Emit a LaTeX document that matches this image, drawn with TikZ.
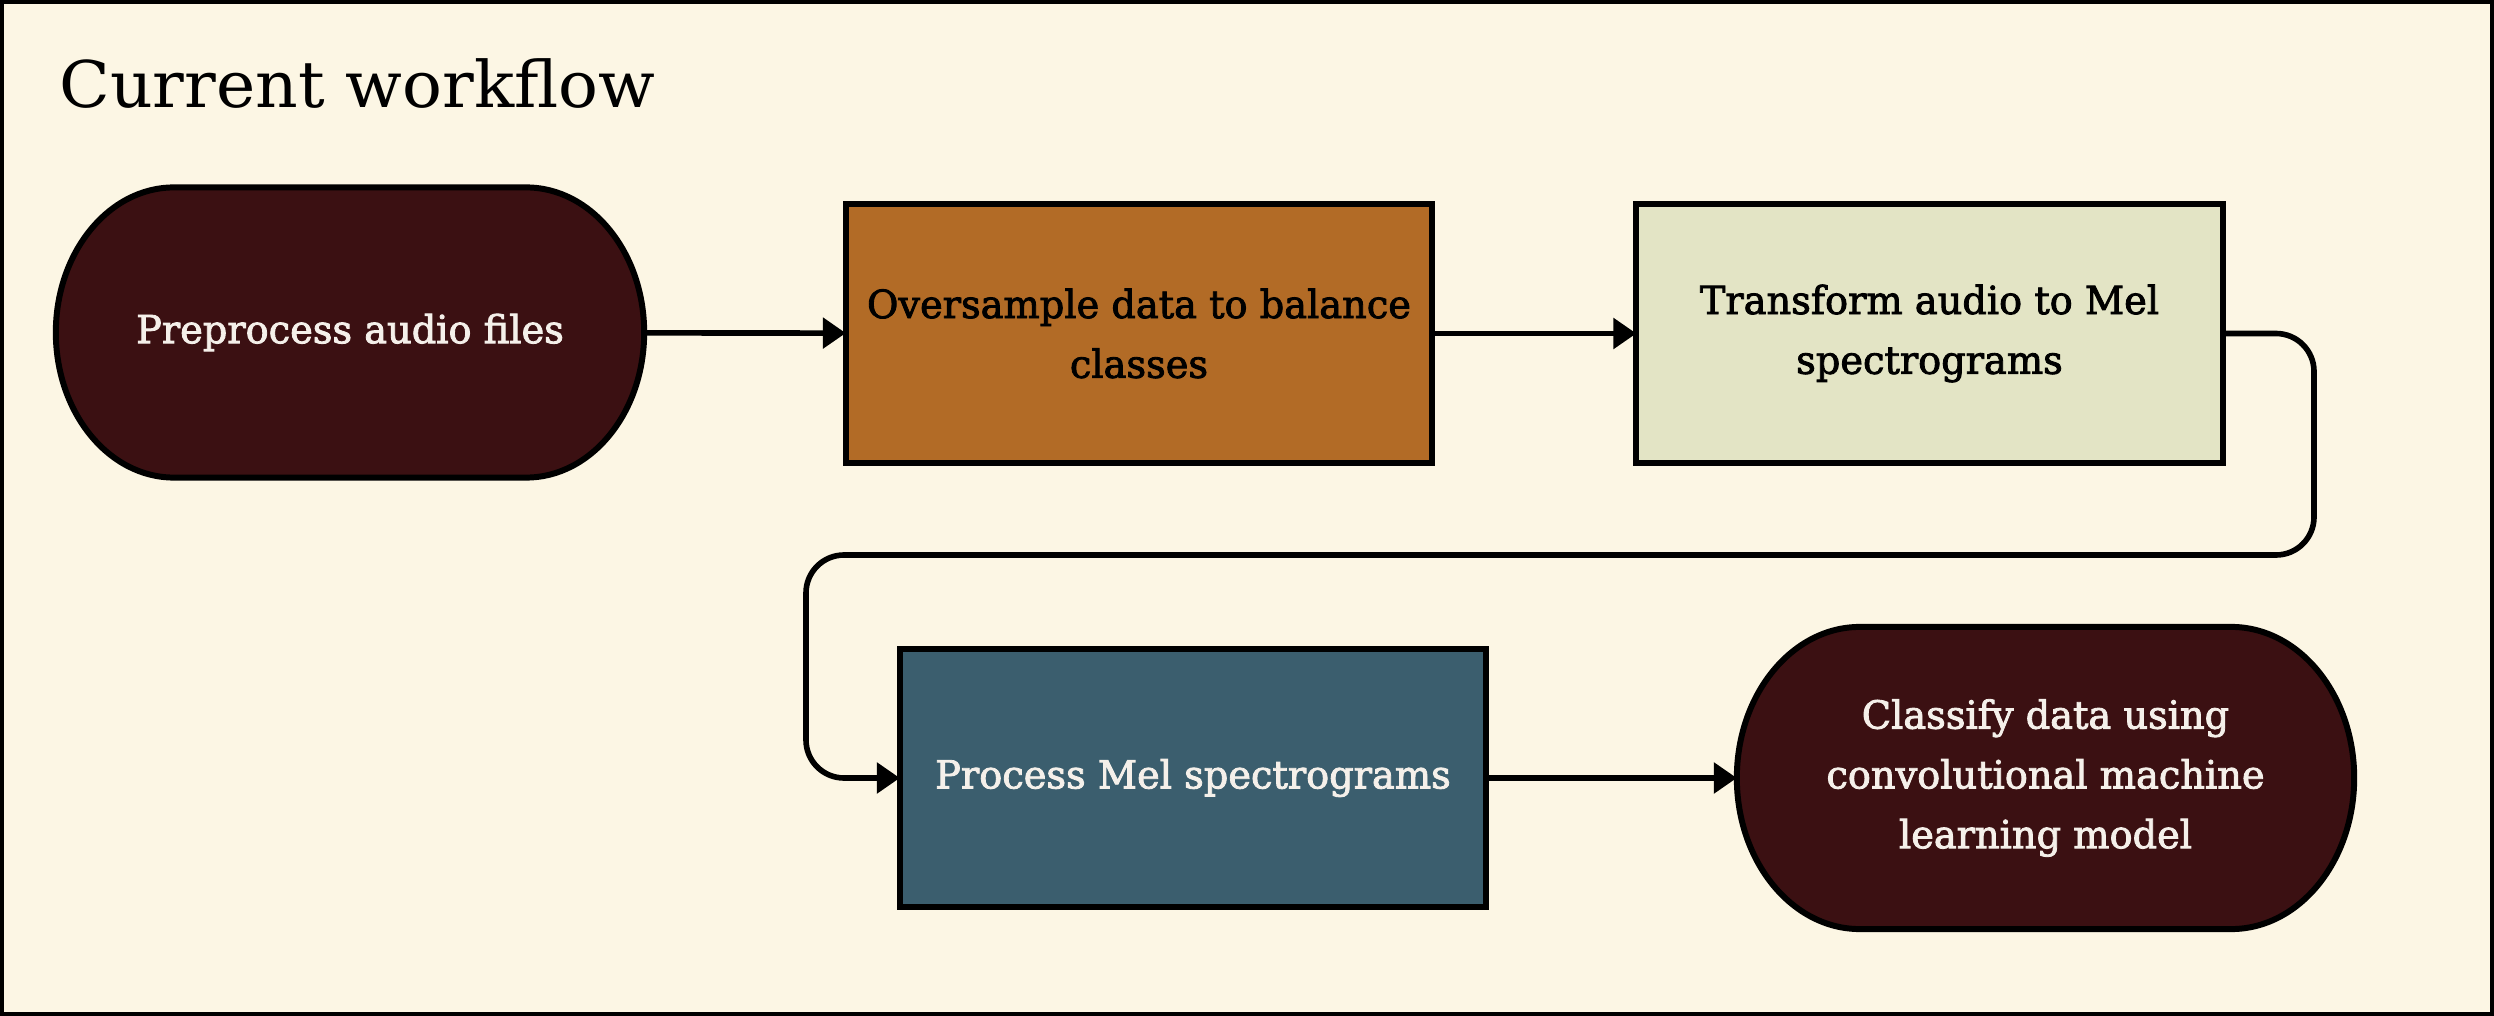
\documentclass[tikz,border=0pt]{standalone}
\usepackage{fontspec}
\setmainfont{DejaVu Serif}
\newfontfamily\boxfont[FakeStretch=0.99,FakeBold=2.2]{DejaVu Serif}
\newfontfamily\headfont[FakeStretch=1.03]{DejaVu Serif}
\usepackage{tikz}
\usetikzlibrary{arrows.meta,backgrounds}
\definecolor{PaperCream}{HTML}{FCF6E4}
\definecolor{CapMaroon}{HTML}{3B1012}
\definecolor{OverOrange}{HTML}{B26B26}
\definecolor{MelOlive}{HTML}{E3E4C5}
\definecolor{ProcBlue}{HTML}{3B5E6E}
\definecolor{TextWhite}{HTML}{F5F0EA}
\tikzset{
  boxtext/.style={font={\boxfont\fontsize{11}{17}\selectfont},align=center,inner sep=0pt,outer sep=0pt},
  stepbox/.style={boxtext,rectangle,draw=black,line width=1.7pt,minimum width=5.86cm,minimum height=2.58cm},
  capnode/.style={boxtext,rectangle,text=TextWhite},
  capline/.style={draw=black,line width=1.7pt,fill=CapMaroon},
  flow/.style={-{Triangle[length=0.23cm,width=0.3cm]},line width=1.6pt}
}

\begin{document}
\begin{tikzpicture}[x=0.01cm,y=-0.01cm]
  \useasboundingbox (0,0) rectangle (2494,1016);
  \begin{scope}[on background layer]
    \fill[PaperCream] (0,0) rectangle (2494,1016);
  \end{scope}
  \node[anchor=base west,font={\headfont\fontsize{18.3}{22}\selectfont}] (title) at (47,108) {Current workflow};
  \node[capnode,minimum width=5.88cm,minimum height=2.9cm] (pre) at (350,332.5) {Preprocess audio files};
  \node[stepbox,fill=OverOrange,minimum height=2.59cm] (ovs) at (1139,333.5) {Oversample data to balance\\classes};
  \node[stepbox,fill=MelOlive,minimum height=2.59cm] (tra) at (1929.5,333.5) {Transform audio to Mel\\spectrograms};
  \node[stepbox,fill=ProcBlue,text=TextWhite] (pro) at (1193,778) {Process Mel spectrograms};
  \node[capnode,minimum width=6.17cm,minimum height=3.02cm] (cls) at (2045.5,778) {Classify data using\\convolutional machine\\learning model};
  \begin{scope}[on background layer]
    \foreach \n/\rx/\ry in {pre/1.18/1.45,cls/1.23/1.51}{
      \draw[capline] ([xshift=\rx cm]\n.north west) -- ([xshift=-\rx cm]\n.north east)
        arc[start angle=90,end angle=-90,x radius=\rx cm,y radius=\ry cm]
        -- ([xshift=\rx cm]\n.south west)
        arc[start angle=270,end angle=90,x radius=\rx cm,y radius=\ry cm] -- cycle;
    }
  \end{scope}
  \coordinate (loopR) at (2314,555);
  \coordinate (loopL) at (806,555);
  \draw[flow] (pre) -- (ovs);
  \draw[flow] (ovs) -- (tra);
  \draw[flow,rounded corners=0.38cm] (tra.east) -| (loopR) -- (loopL) |- (pro.west);
  \draw[flow] (pro) -- (cls);
  \draw[line width=1.2pt] (2,2) rectangle (2492,1014);
\end{tikzpicture}
\end{document}
